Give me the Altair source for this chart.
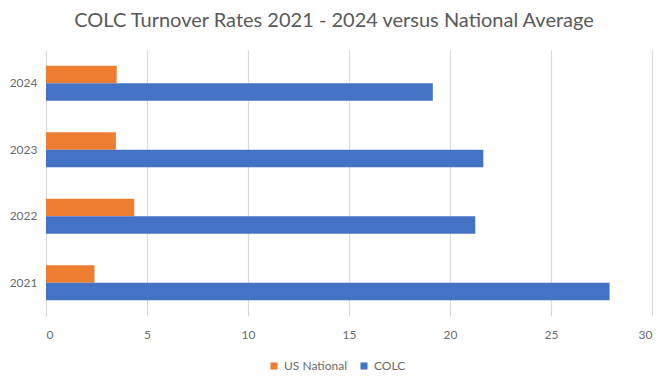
import altair as alt
import pandas as pd

years = ["2021", "2022", "2023", "2024"]
colc = [27.9, 21.25, 21.65, 19.15]
us_national = [2.4, 4.37, 3.46, 3.5]
series = ["US National", "COLC"]
colors = ["#ED7D31", "#4472C4"]
x_ticks = [0, 5, 10, 15, 20, 25, 30]

rows = []
for i, y in enumerate(years):
    rows.append({"Year": y, "Series": "US National", "Rate": us_national[i]})
    rows.append({"Year": y, "Series": "COLC", "Rate": colc[i]})
df = pd.DataFrame(rows)

FONT = "Lato, sans-serif"

chart = alt.Chart(df).mark_bar().encode(
    x=alt.X("Rate:Q", scale=alt.Scale(domain=[0, 30], nice=False),
            axis=alt.Axis(values=x_ticks, title=None, domain=False, ticks=False,
                          grid=True, gridColor="#D9D9D9", gridWidth=1.2,
                          labelFontSize=12, labelColor="#6a6a6a", labelFont=FONT,
                          labelPadding=13)),
    y=alt.Y("Year:N", sort="descending",
            scale=alt.Scale(paddingInner=0.474, paddingOuter=0.237),
            axis=alt.Axis(title=None, domain=False, ticks=False, grid=False,
                          labelFontSize=12, labelColor="#6a6a6a", labelFont=FONT,
                          labelPadding=9)),
    yOffset=alt.YOffset("Series:N", sort=series, scale=alt.Scale(paddingInner=0, paddingOuter=0)),
    color=alt.Color("Series:N", sort=series,
                    scale=alt.Scale(domain=series, range=colors),
                    legend=alt.Legend(title=None, orient="none", direction="horizontal",
                                      legendX=222, legendY=310, padding=0,
                                      symbolType="square", symbolSize=50,
                                      symbolStrokeWidth=0, labelFontSize=12,
                                      labelFont=FONT, labelColor="#6a6a6a",
                                      labelOffset=4, columnPadding=11)),
).properties(
    width=606,
    height=266,
    padding={"left": 38, "top": 42, "right": 6, "bottom": 65},
    autosize=alt.AutoSizeParams(type="none"),
    title=alt.TitleParams("COLC Turnover Rates 2021 - 2024 versus National Average",
                          fontSize=20, font=FONT, color="#595959", fontWeight="normal",
                          anchor="middle", dx=-15, baseline="alphabetic", offset=23, dy=20),
).configure_view(stroke=None)

chart.save("out.html", embed_options={"renderer": "svg", "actions": False})
